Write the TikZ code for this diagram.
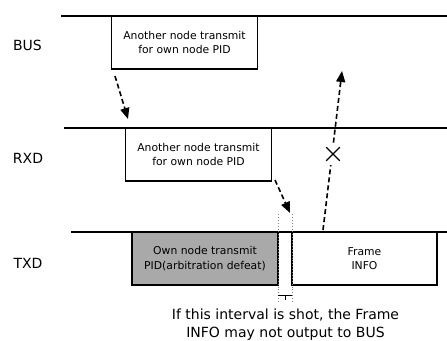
\documentclass[tikz,border=0pt]{standalone}
\usepackage{fontspec}
\setmainfont{DejaVu Sans}
\usetikzlibrary{arrows.meta,shapes.misc}
\definecolor{defeatgray}{RGB}{169,169,169}
\tikzset{
  sigline/.style={line width=1.4pt},
  framebox/.style={draw, line width=1.4pt, minimum width=146pt, minimum height=53pt,
    inner sep=0pt, align=center, font=\fontsize{10.8}{14.5}\selectfont},
  siglabel/.style={font=\fontsize{14}{16}\selectfont, inner sep=0pt},
  flow/.style={line width=1.6pt, dash pattern=on 5pt off 3pt,
    -{Triangle[length=11pt,width=9pt]}},
  guide/.style={draw=gray, line width=0.9pt, dotted},
}
\begin{document}
\begin{tikzpicture}[x=1pt,y=-1pt]
\useasboundingbox (0,0) rectangle (447,340);

% signal names
\node[siglabel] (lbus) at (27.5,45) {BUS};
\node[siglabel] (lrxd) at (28,158) {RXD};
\node[siglabel] (ltxd) at (28,263) {TXD};

% signal levels
\coordinate (busL) at (61,16);   \coordinate (busR) at (447,16);
\coordinate (rxdL) at (64,128);  \coordinate (rxdR) at (447,128);
\coordinate (txdL) at (71,232);  \coordinate (txdR) at (447,232);
\draw[sigline] (busL) -- (busR);
\draw[sigline] (rxdL) -- (rxdR);
\draw[sigline] (txdL) -- (txdR);

% frames on each signal
\node[framebox, fill=white] (busbox) at (184.5,42.5) {Another node transmit\\for own node PID};
\node[framebox, fill=white] (rxdbox) at (198.5,154.5) {Another node transmit\\for own node PID};
\node[framebox, fill=defeatgray, minimum width=146pt] (ownbox) at (205,258.5) {Own node transmit\\PID(arbitration defeat)};
\node[framebox, fill=white, minimum width=145pt] (infobox) at (364.5,258.5) {Frame\\INFO};

% interval between arbitration loss and INFO
\coordinate (gapLt) at (278,214); \coordinate (gapLb) at (278,303);
\coordinate (gapRt) at (292,214); \coordinate (gapRb) at (292,303);
\draw[guide] (gapLt) -- (gapLb);
\draw[guide] (gapRt) -- (gapRb);
\coordinate (brL) at (278,295); \coordinate (brR) at (292,295);
\coordinate (brM) at (285,295); \coordinate (brT) at (285,300);
\draw[line width=0.8pt] (brL) -- (brR);
\draw[line width=0.8pt] (brM) -- (brT);

% propagation arrows
\coordinate (a1s) at (115,76);  \coordinate (a1e) at (128,119);
\coordinate (a2s) at (275,180); \coordinate (a2e) at (290,213);
\coordinate (a3s) at (323,230); \coordinate (a3e) at (342,71);
\draw[flow] (a1s) -- (a1e);
\draw[flow] (a2s) -- (a2e);
\draw[flow] (a3s) -- (a3e);
\fill[white] (327,144) rectangle (340,165);
\node[cross out, draw, line width=1.1pt, minimum size=12.5pt, inner sep=0pt] (blocked) at (333,154) {};

% note
\node[font=\fontsize{14}{18}\selectfont, align=center, inner sep=0pt, anchor=north]
  (note) at (285.5,309) {If this interval is shot, the Frame\\INFO may not output to BUS};
\end{tikzpicture}
\end{document}
